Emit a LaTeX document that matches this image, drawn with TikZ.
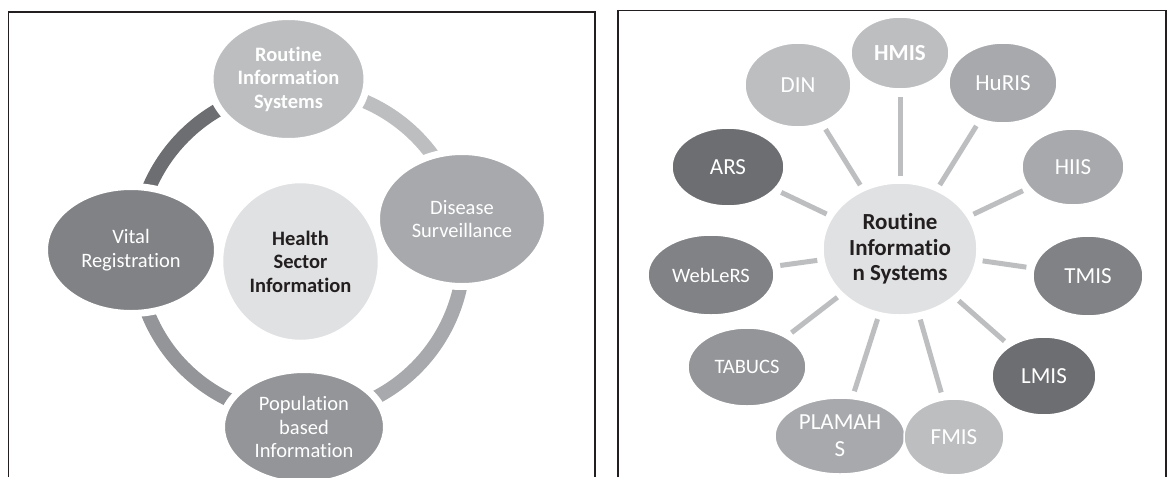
\documentclass[tikz,border=0pt]{standalone}
\usepackage{fontspec}
\setmainfont[Ligatures=NoCommon]{Carlito}
\usetikzlibrary{shapes.geometric}
\definecolor{gA}{HTML}{BCBEC0}
\definecolor{gB}{HTML}{A7A9AC}
\definecolor{gC}{HTML}{939598}
\definecolor{gD}{HTML}{808285}
\definecolor{gE}{HTML}{6D6E71}
\definecolor{gL}{HTML}{E0E1E2}
\definecolor{ink}{HTML}{231F20}
\tikzset{
  frameline/.style={draw=ink, line width=1.8pt},
  ringarc/.style={line width=14pt, line cap=butt},
  halo/.style 2 args={ellipse, inner sep=0pt, draw=white, line width=7pt,
     minimum width=#1pt+7pt, minimum height=#2pt+7pt, text=white, align=center,
     font=\fontsize{20.5}{23.5}\selectfont},
  oval/.style 2 args={ellipse, inner sep=0pt, draw=white, line width=1.5pt,
     minimum width=#1pt, minimum height=#2pt, text=white, align=center,
     font=\fontsize{23}{27}\selectfont},
  spoke/.style={draw=gA, line width=5pt, shorten <=6pt, shorten >=7pt},
}
\begin{document}
\begin{tikzpicture}[x=1pt,y=-1pt]
\useasboundingbox (0,0) rectangle (1172,477);
\fill[white] (0,0) rectangle (1172,477);
% frames
\draw[frameline] (8.5,477) -- (8.5,12) -- (595,12) -- (595,477);
\draw[frameline] (618,477) -- (618,10.5) -- (1166,10.5) -- (1166,477);

% ---------- left panel ----------
\coordinate (ringc) at (300,252);
\draw[ringarc, draw=gE] (ringc) ++(180.7:164) arc[start angle=180.7, end angle=266, radius=164];
\draw[ringarc, draw=gA] (ringc) ++(-94:164) arc[start angle=-94, end angle=-11.5, radius=164];
\draw[ringarc, draw=gB] (ringc) ++(-11.5:164) arc[start angle=-11.5, end angle=88.7, radius=164];
\draw[ringarc, draw=gC] (ringc) ++(88.7:164) arc[start angle=88.7, end angle=180.7, radius=164];

\node[halo={150}{118}, fill=gA, font=\bfseries\fontsize{20.5}{23.5}\selectfont] (ris) at (288.5,79) {Routine\\Information\\Systems};
\node[halo={164}{128}, fill=gB] (dis) at (462,219) {Disease\\Surveillance};
\node[halo={166}{120}, fill=gD] (vit) at (131,250) {Vital\\Registration};
\node[halo={158}{108}, fill=gC] (pop) at (304,427) {Population\\based\\Information};
\node[oval={156}{158}, fill=gL, text=ink, font=\bfseries\fontsize{20.5}{23.5}\selectfont] (hsi) at (300.5,261.5) {Health\\Sector\\Information};

% ---------- right panel ----------
\node[oval={154}{132}, fill=gL, text=ink, font=\bfseries\fontsize{23}{25.5}\selectfont] (rc) at (900,249) {Routine\\Informatio\\n Systems};

\node[oval={106}{84}, fill=gA] (din) at (798,85) {DIN};
\node[oval={108}{80}, fill=gB] (huris) at (1003,83) {HuRIS};
\node[oval={98}{72}, fill=gA, font=\bfseries\fontsize{23}{27}\selectfont] (hmis) at (900,53) {HMIS};
\node[oval={102}{76}, fill=gB] (hiis) at (1073,167) {HIIS};
\node[oval={112}{78}, fill=gE] (ars) at (728,167) {ARS};
\node[oval={126}{80}, fill=gD, font=\fontsize{20.5}{24}\selectfont] (webl) at (711,275) {WebLeRS};
\node[oval={110}{80}, fill=gD] (tmis) at (1088,276) {TMIS};
\node[oval={118}{78}, fill=gC, font=\fontsize{20.5}{24}\selectfont] (tabucs) at (747,367) {TABUCS};
\node[oval={104}{78}, fill=gE] (lmis) at (1044,376) {LMIS};
\node[oval={130}{76}, fill=gB] (plamahs) at (840,436) {PLAMAH\\S};
\node[oval={100}{76}, fill=gA] (fmis) at (954,437) {FMIS};

\foreach \n in {hmis,din,huris,hiis,ars,webl,tmis,tabucs,lmis,plamahs,fmis}
  \draw[spoke] (rc) -- (\n);
\end{tikzpicture}
\end{document}
